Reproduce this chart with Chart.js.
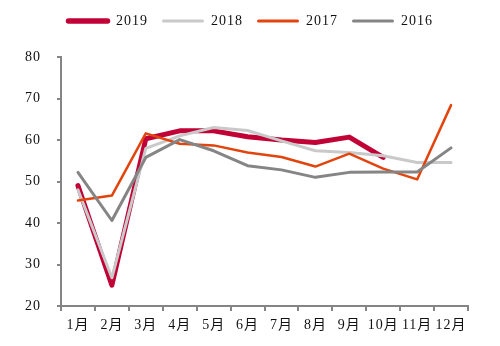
<!DOCTYPE html>
<html lang="zh">
<head>
<meta charset="UTF-8">
<title>月度走势</title>
<script src="https://cdn.jsdelivr.net/npm/chart.js"></script>
<style>
  html, body { margin: 0; padding: 0; background: #fff; }
  .wrap { width: 500px; height: 346px; }
</style>
</head>
<body>
<div class="wrap"><canvas id="chart" width="500" height="346"></canvas></div>
<script>
// months and yearly series
const months = ['1月', '2月', '3月', '4月', '5月', '6月', '7月', '8月', '9月', '10月', '11月', '12月'];
const y2019 = [49, 25, 60.3, 62.2, 62.2, 60.8, 60, 59.4, 60.7, 55.8, null, null];
const y2018 = [48, 26.8, 58, 61, 63, 62.3, 59.8, 57.4, 57, 56.2, 54.6, 54.6];
const y2017 = [45.4, 46.6, 61.6, 59.1, 58.7, 57, 55.9, 53.6, 56.7, 53.1, 50.5, 68.4];
const y2016 = [52.2, 40.6, 55.8, 60.1, 57.4, 53.8, 52.8, 51, 52.2, 52.3, 52.3, 58.1];
const yTicks = [20, 30, 40, 50, 60, 70, 80];

const serif = "'Liberation Serif', 'Times New Roman', 'Noto Sans CJK SC', serif";
const axisGray = '#858585';

// canvas letter spacing is reset whenever chart.js resizes the canvas
const spacing = {
  id: 'spacing',
  beforeUpdate(chart) { chart.ctx.letterSpacing = '1px'; },
  beforeDraw(chart) { chart.ctx.letterSpacing = '1px'; }
};

const legendHeight = {
  id: 'legendHeight',
  beforeInit(chart) {
    const fit = chart.legend.fit;
    chart.legend.fit = function () {
      fit.bind(chart.legend)();
      this.height = 57;
    };
  }
};

function line(label, data, color, width, order) {
  return {
    label, data, order,
    borderColor: color,
    backgroundColor: color,
    borderWidth: width,
    pointRadius: 0,
    tension: 0,
    borderJoinStyle: 'round',
    borderCapStyle: 'round',
    spanGaps: false
  };
}

new Chart(document.getElementById('chart'), {
  type: 'line',
  data: {
    labels: months,
    datasets: [
      line('2019', y2019, '#C10237', 5, 4),
      line('2018', y2018, '#C9C9C9', 3, 3),
      line('2017', y2017, '#E2440E', 2.5, 2),
      line('2016', y2016, '#858585', 3, 1)
    ]
  },
  options: {
    responsive: false,
    animation: false,
    layout: { padding: 0 },
    plugins: {
      legend: {
        display: true,
        position: 'top',
        labels: {
          boxWidth: 42,
          boxHeight: 3,
          padding: 14,
          color: '#111',
          font: { family: serif, size: 14 },
          useBorderRadius: true,
          borderRadius: 1.5,
          sort: (a, b) => a.datasetIndex - b.datasetIndex,
          // thin bars, only 2019 gets a heavier outline
          generateLabels(chart) {
            const items = Chart.defaults.plugins.legend.labels.generateLabels(chart);
            return items.map(it => ({ ...it, lineWidth: it.text === '2019' ? 2.5 : 0 }));
          }
        }
      },
      tooltip: { enabled: false }
    },
    scales: {
      x: {
        offset: true,
        grid: { display: true, drawOnChartArea: false, tickLength: 5, color: axisGray, lineWidth: 2, offset: true },
        border: { color: axisGray, width: 2 },
        ticks: { color: '#111', font: { family: serif, size: 14 }, padding: 6, maxRotation: 0, autoSkip: false },
        afterFit(scale) { scale.height = 40; }
      },
      y: {
        min: 20,
        max: 80,
        afterBuildTicks(scale) { scale.ticks = yTicks.map(v => ({ value: v })); },
        grid: { display: true, drawOnChartArea: false, tickLength: 4, color: axisGray, lineWidth: 2 },
        border: { color: axisGray, width: 2 },
        ticks: { color: '#111', font: { family: serif, size: 14 }, padding: 16 },
        afterFit(scale) { scale.width = 61; }
      },
      // empty right-hand axis that only reserves margin
      yRight: {
        position: 'right',
        min: 20,
        max: 80,
        grid: { display: false },
        border: { display: false },
        ticks: { display: false },
        afterFit(scale) { scale.width = 32; }
      }
    }
  },
  plugins: [spacing, legendHeight]
});
</script>
</body>
</html>
